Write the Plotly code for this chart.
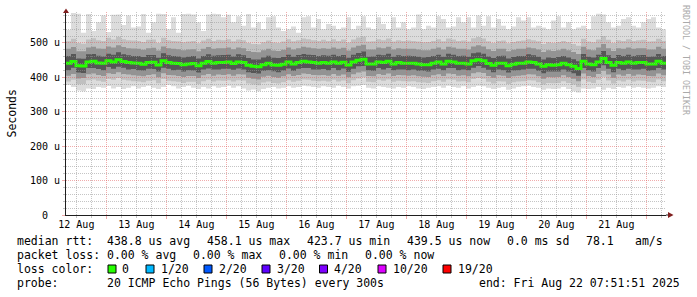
import pandas as pd
import plotly.graph_objects as go

# ---------------- data (values in microseconds) ----------------
start = '2025-08-12 07:51:51'
end = '2025-08-22 07:51:51'

median_us = [
    441, 446, 434, 433, 445, 447, 442, 441, 448, 445, 451, 446, 443, 442, 441, 438,
    443, 444, 436, 448, 443, 441, 440, 437, 439, 440, 434, 441, 446, 441, 443, 443,
    445, 440, 445, 443, 435, 432, 431, 437, 441, 436, 435, 438, 445, 439, 443, 447,
    445, 443, 441, 443, 441, 445, 441, 444, 436, 445, 450, 453, 439, 439, 445, 443,
    447, 439, 443, 441, 441, 441, 439, 437, 437, 441, 445, 439, 447, 445, 441, 441,
    439, 448, 451, 448, 440, 435, 441, 441, 434, 438, 441, 441, 445, 443, 439, 432,
    437, 435, 437, 441, 437, 432, 426, 447, 439, 437, 445, 455, 443, 435, 443, 441,
    445, 441, 443, 443, 439, 439, 447, 441]

ping_max_us = [
    538, 587, 585, 530, 584, 535, 560, 580, 532, 582, 583, 552, 580, 545, 548, 584,
    530, 560, 585, 584, 540, 575, 530, 584, 585, 583, 560, 535, 583, 585, 584, 575,
    582, 560, 578, 550, 584, 545, 560, 540, 575, 578, 545, 535, 540, 548, 530, 575,
    578, 545, 570, 540, 555, 550, 540, 545, 575, 540, 550, 578, 545, 540, 575, 555,
    540, 575, 545, 560, 540, 545, 583, 540, 550, 545, 578, 570, 545, 548, 575, 560,
    575, 545, 580, 550, 578, 545, 570, 550, 540, 548, 575, 565, 575, 545, 550, 545,
    540, 565, 578, 545, 560, 540, 545, 550, 540, 578, 585, 583, 560, 545, 550, 570,
    575, 550, 545, 560, 570, 575, 545, 540]

upper3_us = [
    505, 512, 500, 498, 510, 514, 508, 506, 515, 510, 518, 511, 508, 507, 506, 503,
    509, 510, 500, 515, 508, 506, 505, 502, 504, 506, 499, 507, 512, 506, 509, 508,
    511, 505, 510, 508, 500, 497, 496, 502, 507, 501, 500, 504, 511, 505, 508, 513,
    511, 508, 506, 509, 506, 511, 506, 510, 501, 510, 516, 519, 504, 505, 511, 508,
    513, 504, 508, 506, 507, 506, 504, 502, 503, 506, 511, 505, 513, 510, 506, 507,
    504, 514, 517, 513, 505, 500, 506, 507, 499, 503, 506, 507, 511, 508, 505, 497,
    502, 500, 503, 506, 502, 497, 492, 512, 504, 502, 510, 520, 509, 500, 508, 506,
    511, 506, 508, 509, 504, 505, 512, 506]

upper2_us = [
    483, 488, 476, 476, 487, 489, 484, 483, 490, 487, 493, 488, 485, 484, 483, 480,
    485, 486, 478, 490, 485, 483, 482, 479, 481, 482, 476, 483, 488, 483, 485, 485,
    487, 482, 487, 485, 477, 474, 473, 479, 483, 478, 477, 480, 487, 481, 485, 489,
    487, 485, 483, 485, 483, 487, 483, 486, 478, 487, 492, 495, 481, 481, 487, 485,
    489, 481, 485, 483, 483, 483, 481, 479, 479, 483, 487, 481, 489, 487, 483, 483,
    481, 490, 493, 490, 482, 477, 483, 483, 476, 480, 483, 483, 487, 485, 481, 474,
    479, 477, 479, 483, 479, 474, 468, 489, 481, 479, 487, 497, 485, 477, 485, 483,
    487, 483, 485, 485, 481, 481, 489, 483]

upper1_us = [
    462, 468, 455, 454, 467, 468, 463, 461, 469, 466, 473, 467, 464, 462, 462, 459,
    465, 465, 457, 470, 464, 462, 461, 458, 460, 462, 455, 462, 467, 463, 464, 465,
    466, 461, 467, 464, 456, 452, 452, 458, 463, 457, 456, 459, 466, 460, 465, 468,
    466, 465, 462, 464, 463, 466, 462, 465, 457, 466, 471, 475, 460, 461, 466, 464,
    469, 460, 464, 462, 463, 462, 460, 458, 459, 462, 466, 460, 469, 466, 462, 463,
    460, 470, 472, 469, 461, 456, 462, 463, 455, 459, 462, 462, 467, 464, 460, 452,
    458, 456, 459, 462, 458, 453, 447, 468, 460, 458, 466, 477, 464, 456, 465, 462,
    466, 462, 464, 465, 460, 461, 468, 462]

lower1_us = [
    421, 428, 414, 413, 427, 427, 424, 421, 430, 425, 431, 428, 423, 424, 421, 420,
    425, 424, 417, 428, 425, 421, 422, 417, 421, 420, 414, 423, 426, 423, 423, 425,
    425, 422, 426, 423, 415, 413, 411, 419, 421, 418, 415, 420, 426, 419, 425, 427,
    427, 423, 423, 424, 421, 427, 421, 426, 416, 425, 432, 433, 421, 419, 427, 423,
    427, 421, 423, 423, 421, 423, 419, 419, 417, 423, 425, 421, 427, 427, 421, 423,
    421, 428, 433, 428, 422, 415, 423, 421, 414, 420, 421, 423, 425, 425, 419, 412,
    417, 417, 417, 423, 417, 412, 405, 427, 421, 417, 427, 435, 425, 415, 425, 421,
    425, 423, 423, 425, 419, 421, 427, 423]

lower2_us = [
    405, 410, 397, 398, 409, 411, 407, 404, 412, 410, 415, 410, 408, 406, 405, 403,
    407, 409, 400, 412, 407, 406, 404, 401, 404, 404, 398, 406, 410, 405, 408, 407,
    409, 405, 409, 408, 399, 396, 394, 402, 405, 401, 399, 403, 409, 404, 407, 411,
    410, 407, 406, 407, 405, 410, 405, 408, 400, 409, 414, 417, 404, 403, 410, 407,
    411, 404, 407, 406, 405, 406, 403, 402, 401, 406, 409, 404, 411, 410, 405, 406,
    403, 412, 415, 413, 404, 399, 406, 405, 398, 403, 405, 406, 409, 408, 403, 396,
    401, 400, 401, 406, 401, 396, 389, 411, 404, 401, 410, 419, 408, 399, 408, 405,
    410, 405, 408, 407, 404, 403, 411, 406]

lower3_us = [
    388, 393, 380, 381, 392, 394, 390, 387, 395, 393, 398, 393, 391, 389, 388, 386,
    390, 392, 383, 395, 390, 389, 387, 384, 387, 387, 381, 389, 393, 388, 391, 390,
    392, 388, 392, 391, 382, 379, 377, 385, 388, 384, 382, 386, 392, 387, 390, 394,
    393, 390, 389, 390, 388, 393, 388, 391, 383, 392, 397, 400, 387, 386, 393, 390,
    394, 387, 390, 389, 388, 389, 386, 385, 384, 389, 392, 387, 394, 393, 388, 389,
    386, 395, 398, 396, 387, 382, 389, 388, 381, 386, 388, 389, 392, 391, 386, 379,
    384, 383, 384, 389, 384, 379, 372, 394, 387, 384, 393, 402, 391, 382, 391, 388,
    393, 388, 391, 390, 387, 386, 394, 389]

ping_min_us = [
    378, 372, 362, 360, 368, 366, 372, 370, 375, 368, 372, 366, 370, 374, 368, 372,
    376, 370, 366, 372, 378, 374, 368, 372, 376, 370, 366, 372, 368, 374, 370, 372,
    376, 370, 374, 368, 362, 365, 360, 366, 370, 372, 368, 370, 374, 370, 372, 376,
    374, 372, 370, 374, 372, 370, 376, 372, 368, 374, 376, 378, 370, 368, 374, 372,
    370, 368, 372, 370, 374, 372, 368, 366, 370, 372, 374, 370, 376, 372, 370, 374,
    368, 372, 376, 374, 370, 366, 370, 372, 364, 368, 372, 374, 376, 372, 370, 364,
    368, 366, 368, 372, 366, 360, 356, 368, 366, 368, 372, 364, 370, 366, 372, 370,
    374, 370, 372, 370, 368, 370, 374, 372]

day_labels = ['12 Aug', '13 Aug', '14 Aug', '15 Aug', '16 Aug',
              '17 Aug', '18 Aug', '19 Aug', '20 Aug', '21 Aug']
y_tick_vals = [0, 100, 200, 300, 400, 500]
y_tick_text = ['0  ', '100 u', '200 u', '300 u', '400 u', '500 u']

rtt_items = ['median rtt:', '438.8 us avg', '458.1 us max', '423.7 us min',
             '439.5 us now', '0.0 ms sd', '78.1', 'am/s']
loss_items = ['packet loss:', '0.00 % avg', '0.00 % max', '0.00 % min', '0.00 % now']
loss_labels = ['0', '1/20', '2/20', '3/20', '4/20', '10/20', '19/20']
loss_colors = ['#26ff00', '#00b8ff', '#0059ff', '#5e00ff', '#7e00ff', '#dd00ff', '#ff0000']
probe_items = ['probe:', '20 ICMP Echo Pings (56 Bytes) every 300s']
end_text = 'end: Fri Aug 22 07:51:51 2025'
side_text = 'RRDTOOL / TOBI OETIKER'

# ---------------- geometry / style ----------------
W, H = 697, 297
ML, MR, MT, MB = 66, 31, 12, 82
PW, PH = W - ML - MR, H - MT - MB
BASE = H - MB
MONO = 'DejaVu Sans Mono'
GRID = 'rgba(150,150,150,0.55)'
MGRID = 'rgba(225,90,90,0.5)'
AXIS = '#1f1f1f'
ARROW = '#801f1f'


def px(x):
    return (x - ML) / PW


def py(y):
    return (BASE - y) / PH


def nb(s):
    return s.replace(' ', '\u00a0')


edges = pd.date_range(start, periods=len(median_us) + 1, freq='2h')


def stepped(v):
    return list(v) + [v[-1]]


fig = go.Figure()

bands = [(ping_min_us, ping_max_us, '#dcdcdc'),
         (lower3_us, upper3_us, '#c0c0c0'),
         (lower2_us, upper2_us, '#939393'),
         (lower1_us, upper1_us, '#565656')]
for lo, hi, col in bands:
    fig.add_trace(go.Scatter(x=edges, y=stepped(lo), mode='lines',
                             line=dict(width=0, shape='hv'), hoverinfo='skip'))
    fig.add_trace(go.Scatter(x=edges, y=stepped(hi), mode='lines',
                             line=dict(width=0, shape='hv'), fill='tonexty',
                             fillcolor=col, hoverinfo='skip'))

fig.add_trace(go.Scatter(x=edges, y=stepped(median_us), mode='lines',
                         line=dict(width=3, shape='hv', color='#26ff00'),
                         hoverinfo='skip'))

# empty carrier for the grid overlay subplot (drawn on top, like rrdtool)
fig.add_trace(go.Scatter(x=[start, end], y=[None, None], xaxis='x2', yaxis='y2',
                         mode='lines', line=dict(width=0), hoverinfo='skip'))

noons = pd.date_range('2025-08-12 12:00:00', periods=len(day_labels), freq='D')
midnights = pd.date_range('2025-08-13', '2025-08-22', freq='D')
six_hourly = pd.date_range('2025-08-12 12:00:00', '2025-08-22 06:00:00', freq='6h')
minor_times = [t for t in six_hourly if t.hour != 0]

tickfont = dict(family=MONO, size=10, color='black')

fig.update_layout(
    width=W, height=H,
    margin=dict(l=ML, r=MR, t=MT, b=MB, pad=0),
    paper_bgcolor='white', plot_bgcolor='rgba(0,0,0,0)',
    showlegend=False, hovermode=False,
    xaxis=dict(type='date', range=[start, end], domain=[0, 1], anchor='y',
               tickmode='array', tickvals=noons, ticktext=day_labels,
               ticks='', showgrid=False, zeroline=False, showline=False,
               tickfont=tickfont, ticklabelstandoff=2),
    yaxis=dict(range=[0, 590], domain=[0, 1], anchor='x',
               tickmode='array', tickvals=y_tick_vals,
               ticktext=[nb(t) for t in y_tick_text],
               ticks='', showgrid=False, zeroline=False, showline=False,
               tickfont=tickfont, ticklabelstandoff=5),
    xaxis2=dict(type='date', range=[start, end], domain=[0, 1], anchor='y2',
                tickmode='array', tickvals=midnights, showticklabels=False,
                showgrid=True, gridcolor=MGRID, griddash='1px,1px', gridwidth=1,
                ticks='outside', ticklen=3, tickcolor=MGRID,
                zeroline=False, showline=True, linecolor=AXIS, linewidth=1,
                layer='above traces',
                minor=dict(tickmode='array', tickvals=minor_times,
                           showgrid=True, gridcolor=GRID, griddash='1px,1px',
                           ticks='outside', ticklen=2, tickcolor=GRID)),
    yaxis2=dict(range=[0, 590], domain=[0, 1], anchor='x2',
                tickmode='linear', tick0=0, dtick=100, showticklabels=False,
                showgrid=True, gridcolor=MGRID, griddash='1px,1px', gridwidth=1,
                ticks='outside', ticklen=3, tickcolor=MGRID,
                zeroline=False, showline=True, linecolor=AXIS, linewidth=1,
                layer='above traces',
                minor=dict(dtick=20, tick0=0, showgrid=True, gridcolor=GRID,
                           griddash='1px,1px', ticks='outside', ticklen=2,
                           tickcolor=GRID)),
)

annots = []
lf = dict(family=MONO, size=11.5, color='black')


def text_at(s, xp, yc, anchor='left', font=lf, angle=0):
    annots.append(dict(text=nb(s), x=px(xp), y=py(yc), xref='paper', yref='paper',
                       xanchor=anchor, yanchor='middle', showarrow=False,
                       borderpad=0, font=font, textangle=angle))


rtt_x = [16, 106, 206, 306, 406, 506, 585, 634]
for s, x in zip(rtt_items, rtt_x):
    text_at(s, x, 241)
loss_x = [16, 106, 192, 278, 364]
for s, x in zip(loss_items, loss_x):
    text_at(s, x, 255)
text_at('loss color:', 16, 269)
box_x = [108, 146, 204, 262, 319.5, 378, 443]
lab_x = [121, 160, 218, 275.5, 333, 391.5, 457]
shapes = []
for bx, lx, lab, col in zip(box_x, lab_x, loss_labels, loss_colors):
    shapes.append(dict(type='rect', xref='paper', yref='paper',
                       x0=px(bx), x1=px(bx + 8), y0=py(273), y1=py(265),
                       fillcolor=col, line=dict(color='black', width=1)))
    text_at(lab, lx, 269)
text_at(probe_items[0], 16, 282.5)
text_at(probe_items[1], 106, 282.5)
text_at(end_text, 681, 282.5, anchor='right')

annots.append(dict(text='Seconds', x=px(11), y=py(113.5), xref='paper', yref='paper',
                   xanchor='center', yanchor='middle', showarrow=False,
                   textangle=-90, font=dict(family=MONO, size=11.5, color='black')))
annots.append(dict(text=nb(side_text), x=px(686), y=py(60), xref='paper', yref='paper',
                   xanchor='center', yanchor='middle', showarrow=False,
                   textangle=90, font=dict(family=MONO, size=8.3, color='#aaaaaa')))

# axis arrows
shapes.append(dict(type='path', xref='paper', yref='paper', layer='above',
                   path=f'M {px(66)},{py(8.5)} L {px(63)},{py(13)} L {px(69)},{py(13)} Z',
                   fillcolor=ARROW, line=dict(width=0)))
shapes.append(dict(type='path', xref='paper', yref='paper', layer='above',
                   path=f'M {px(673.5)},{py(215)} L {px(668)},{py(212)} L {px(668)},{py(218)} Z',
                   fillcolor=ARROW, line=dict(width=0)))
shapes.append(dict(type='line', xref='paper', yref='paper', layer='above',
                   x0=1, x1=px(668), y0=0, y1=0, line=dict(color=AXIS, width=1)))

fig.update_layout(annotations=annots, shapes=shapes)
fig.write_html('out.html')
